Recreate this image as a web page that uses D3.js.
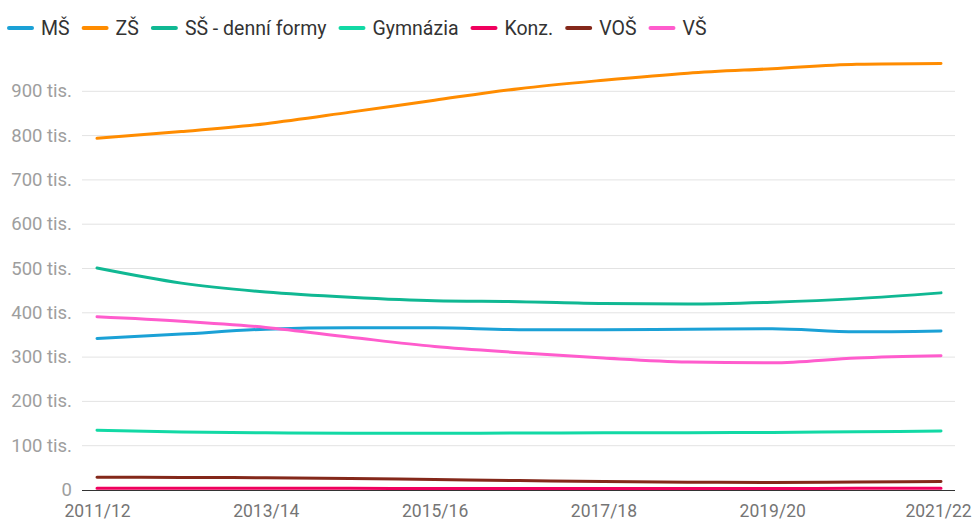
<!DOCTYPE html>
<html>
<head>
<meta charset="utf-8">
<script src="https://cdn.jsdelivr.net/npm/d3@7"></script>
<style>
  html, body { margin: 0; padding: 0; background: #fff; }
  svg { display: block; font-family: Roboto, "Noto Sans", sans-serif; }
</style>
</head>
<body>
<svg id="chart" width="977" height="521"></svg>
<script>
const years = ["2011/12","2012/13","2013/14","2014/15","2015/16","2016/17","2017/18","2018/19","2019/20","2020/21","2021/22"];
const xTickLabels = ["2011/12","2013/14","2015/16","2017/18","2019/20","2021/22"];
const yTicks = [0,100000,200000,300000,400000,500000,600000,700000,800000,900000];

const seriesNames = ["MŠ","ZŠ","SŠ - denní formy","Gymnázia","Konz.","VOŠ","VŠ"];
const seriesColors = ["#1ba1d6","#ff8c00","#10b893","#12d9a5","#f0005e","#84281a","#ff5ccd"];

const valMS   = [342000,352000,363000,366000,366000,362000,362000,363000,364000,357000,359000];
const valZS   = [794000,809000,827000,853000,880000,906000,925000,941000,951000,961000,963000];
const valSS   = [501000,467000,447000,435000,427000,425000,421000,420000,424000,432000,445000];
const valGym  = [135000,131000,129000,128000,128000,128500,129000,129500,130000,131500,133000];
const valKonz = [3800,3800,3700,3700,3600,3600,3600,3600,3600,3700,3700];
const valVOS  = [28800,28500,27500,26000,23500,21200,19200,17600,17000,18000,19400];
const valVS   = [391000,381000,367000,345000,324000,310000,298000,289000,287000,298000,303000];

const seriesValues = [valMS, valZS, valSS, valGym, valKonz, valVOS, valVS];

const svg = d3.select("#chart");
const gridLeft = 82, gridRight = 955;

const x = d3.scalePoint().domain(years).range([97, 941]);
const y = d3.scaleLinear().domain([0, 1000000]).range([490, 47]);

// gridlines
svg.append("g").selectAll("line")
  .data(yTicks.filter(d => d > 0))
  .join("line")
  .attr("x1", gridLeft).attr("x2", gridRight)
  .attr("y1", d => y(d)).attr("y2", d => y(d))
  .attr("stroke", "#e3e3e3").attr("stroke-width", 1);

// y axis labels
const yAxis = d3.axisLeft(y).tickValues(yTicks).tickSize(0).tickPadding(0)
  .tickFormat(d => d === 0 ? "0" : (d / 1000) + " tis.");
const gy = svg.append("g").attr("transform", "translate(72,0)").call(yAxis);
gy.select(".domain").remove();
gy.selectAll("text").attr("fill", "#9e9e9e").style("font-size", "18.5px")
  .style("font-family", "Roboto, sans-serif")
  .attr("dy", "0.3em");

// x axis labels
const xAxis = d3.axisBottom(x).tickValues(xTickLabels).tickSize(0).tickPadding(0);
const gx = svg.append("g").attr("transform", "translate(0,516.5)").call(xAxis);
gx.select(".domain").remove();
gx.selectAll("text").attr("fill", "#757575").style("font-size", "17.5px")
  .style("font-family", "Roboto, sans-serif")
  .attr("y", 0)
  .attr("dy", "0")
  .attr("dx", d => d === "2021/22" ? -3 : 0);

// zero baseline
svg.append("line")
  .attr("x1", gridLeft).attr("x2", gridRight)
  .attr("y1", y(0) + 0.5).attr("y2", y(0) + 0.5)
  .attr("stroke", "#333").attr("stroke-width", 1);

// lines
const line = d3.line()
  .x((d, i) => x(years[i]))
  .y(d => y(d))
  .curve(d3.curveMonotoneX);

svg.append("g").selectAll("path")
  .data(seriesValues)
  .join("path")
  .attr("d", d => line(d))
  .attr("fill", "none")
  .attr("stroke", (d, i) => seriesColors[i])
  .attr("stroke-width", 3)
  .attr("stroke-linecap", "round")
  .attr("stroke-linejoin", "round");

// legend
const legend = svg.append("g").attr("transform", "translate(0,28)");
let lx = 9;
seriesNames.forEach((name, i) => {
  const g = legend.append("g");
  g.append("line")
    .attr("x1", lx).attr("x2", lx + 23)
    .attr("y1", 0).attr("y2", 0)
    .attr("stroke", seriesColors[i]).attr("stroke-width", 4)
    .attr("stroke-linecap", "round");
  const t = g.append("text")
    .attr("x", lx + 32).attr("y", 0).attr("dy", "0.35em")
    .attr("fill", "#333")
    .style("font-size", "19.5px")
    .style("font-family", "Roboto, sans-serif")
    .text(name);
  const w = t.node().getComputedTextLength();
  lx = lx + 32 + w + 14;
});
</script>
</body>
</html>
